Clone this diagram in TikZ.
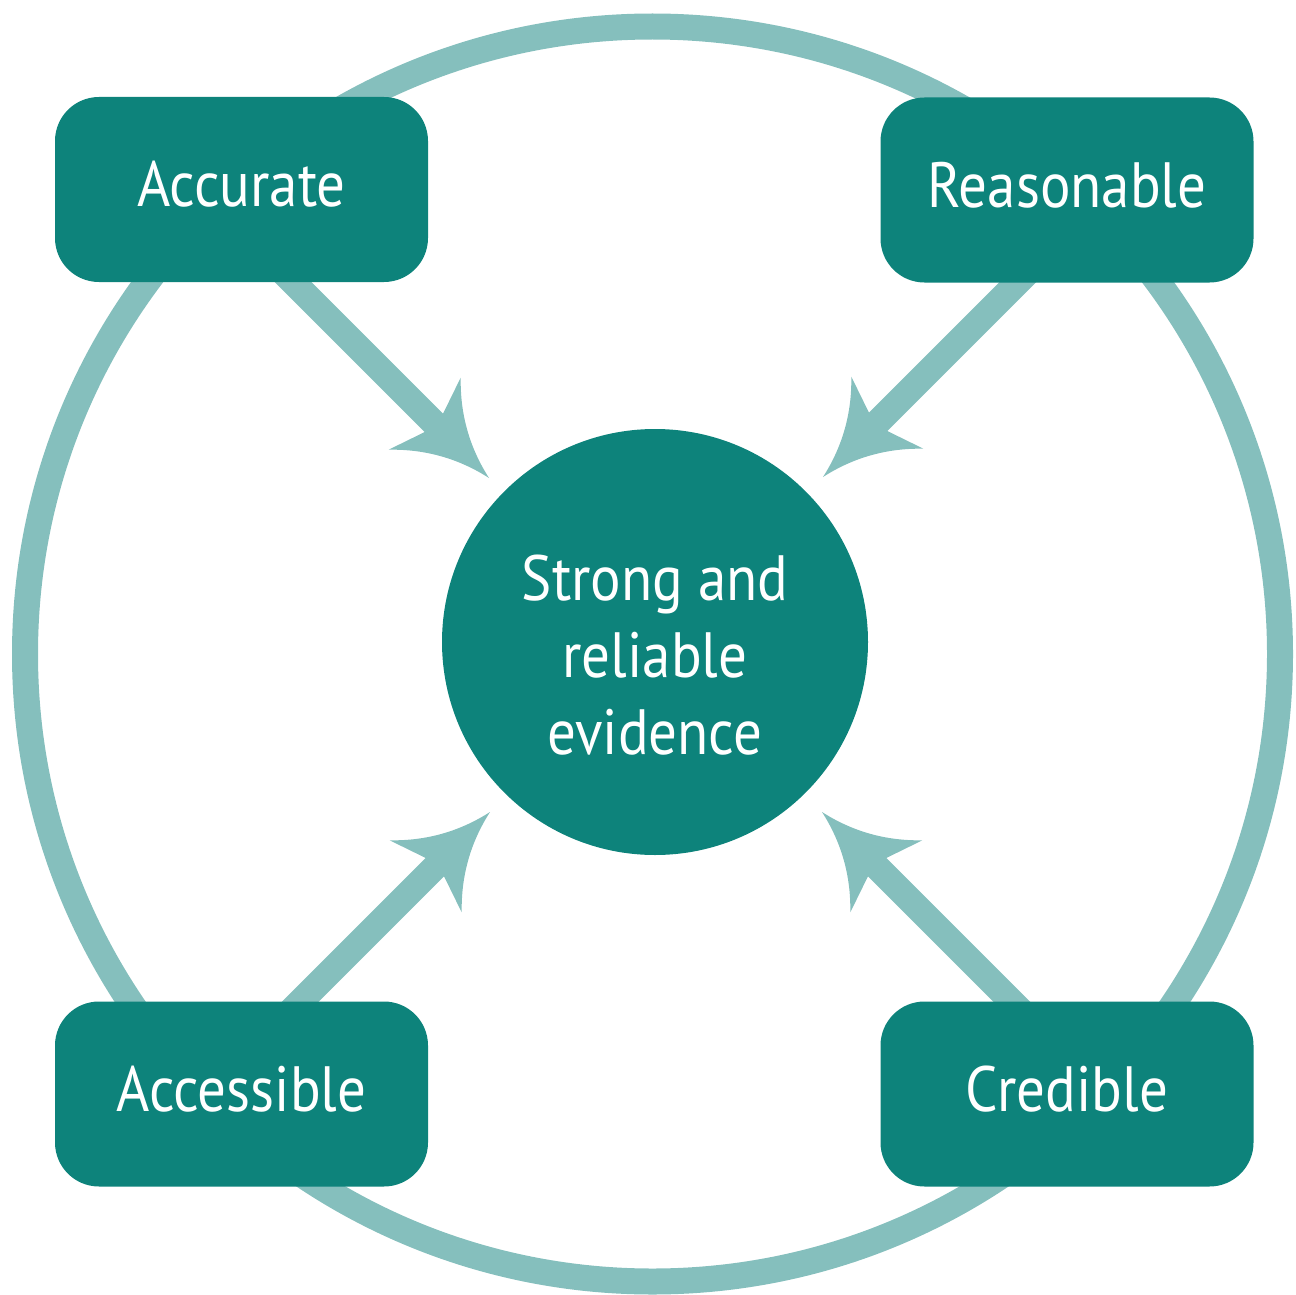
\documentclass[tikz,border=0pt]{standalone}
\usepackage{fontspec}
\newfontfamily\lblfont{PT Sans}[FakeStretch=0.89]
\usetikzlibrary{calc}
\definecolor{tealdark}{RGB}{13,131,123}
\definecolor{teallight}{RGB}{133,191,189}
\newcommand\swhead[2]{%
  \fill[headfill,shift={(#1)},rotate=#2] (-78,13) -- (-91,51)
    .. controls (-65.7,24.7) and (-35.3,7.7) .. (0,0)
    .. controls (-35.3,-7.7) and (-65.7,-24.7) .. (-91,-51)
    -- (-78,-13) -- cycle;}
\begin{document}
\begin{tikzpicture}[x=0.5pt,y=-0.5pt,
  ring/.style={draw=teallight,line width=13pt},
  shaft/.style={draw=teallight,line width=13pt},
  headfill/.style={fill=teallight},
  lbl/.style={text=white,font=\lblfont\fontsize{32}{38.5}\selectfont},
  box/.style={lbl,fill=tealdark,rounded corners=22pt,minimum width=186.5pt,
    minimum height=92.5pt,inner sep=0pt,text height=22pt,text depth=5pt},
  hub/.style={circle,fill=tealdark,minimum size=213pt,inner sep=0pt},
  hubtext/.style={lbl,align=center,inner sep=0pt}]
\useasboundingbox (0,0) rectangle (1296,1295);
% outer ring
\draw[ring] (652.5,654) circle[radius=313.75pt];
% arrow tips and starts
\coordinate (accT) at (489,478);
\coordinate (reaT) at (823,477);
\coordinate (acsT) at (490,812);
\coordinate (creT) at (822,812);
\coordinate (accS) at ($(accT)+(-250,-250)$);
\coordinate (reaS) at ($(reaT)+(250,-250)$);
\coordinate (acsS) at ($(acsT)+(-250,250)$);
\coordinate (creS) at ($(creT)+(250,250)$);
% shafts
\draw[shaft] (accS) -- ($(accT)+(-49.5,-49.5)$);
\draw[shaft] (reaS) -- ($(reaT)+(49.5,-49.5)$);
\draw[shaft] (acsS) -- ($(acsT)+(-49.5,49.5)$);
\draw[shaft] (creS) -- ($(creT)+(49.5,49.5)$);
% heads
\swhead{accT}{-45}
\swhead{reaT}{-135}
\swhead{acsT}{45}
\swhead{creT}{135}
% boxes
\node[box] (acc) at (241.5,189.5) {Accurate};
\node[box] (rea) at (1067,190) {Reasonable};
\node[box] (acs) at (241.5,1094) {Accessible};
\node[box] (cre) at (1067,1094) {Credible};
% hub
\node[hub] (ev) at (655,642) {};
\node[hubtext] (evtext) at ($(ev.center)+(0,13)$) {Strong and\\reliable\\evidence};
\end{tikzpicture}
\end{document}
